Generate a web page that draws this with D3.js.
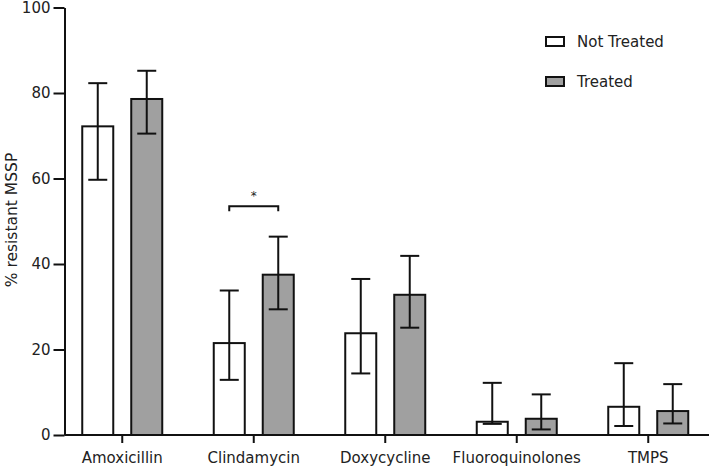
<!DOCTYPE html>
<html><head><meta charset="utf-8">
<script src="https://cdn.jsdelivr.net/npm/d3@7"></script>
<style>body{margin:0;background:#fff}svg{display:block}text{font-family:"DejaVu Sans",Verdana,sans-serif;fill:#222}</style>
</head><body><svg id="c" width="709" height="470"></svg>
<script>
const categories = ["Amoxicillin","Clindamycin","Doxycycline","Fluoroquinolones","TMPS"];
const groups = ["Not Treated","Treated"];
const notTreated = [72.2, 21.5, 23.8, 3.1, 6.6];
const notTreatedLow = [59.7, 12.9, 14.4, 2.6, 2.1];
const notTreatedHigh = [82.3, 33.8, 36.5, 12.2, 16.8];
const treated = [78.6, 37.5, 32.8, 3.8, 5.6];
const treatedLow = [70.5, 29.4, 25.1, 1.3, 2.7];
const treatedHigh = [85.2, 46.4, 41.9, 9.5, 11.9];
const yTicks = [0, 20, 40, 60, 80, 100];
const sigCategory = "Clindamycin";
const sigLevel = 53.5;
const sigLabel = "*";
const colors = {"Not Treated":"#ffffff","Treated":"#a0a0a0"};

const svg = d3.select("#c");
const y = d3.scaleLinear().domain([0,100]).range([435,7.5]);
const x = d3.scaleBand().domain(categories).range([56.5,714]).padding(0);
const xi = d3.scaleBand().domain(groups).range([-40,40]).paddingInner(0.367);

const rows = [];
categories.forEach((c,i)=>{
  rows.push({c,g:"Not Treated",v:notTreated[i],lo:notTreatedLow[i],hi:notTreatedHigh[i]});
  rows.push({c,g:"Treated",v:treated[i],lo:treatedLow[i],hi:treatedHigh[i]});
});
const cx = d => x(d.c)+x.bandwidth()/2;

// bars
svg.selectAll("rect.bar").data(rows).join("rect").attr("class","bar")
  .attr("x",d=>cx(d)+xi(d.g)).attr("width",xi.bandwidth())
  .attr("y",d=>y(d.v)).attr("height",d=>y(0)-y(d.v))
  .attr("fill",d=>colors[d.g]).attr("stroke","#111").attr("stroke-width",2);

// error bars
const eb = svg.append("g").attr("stroke","#111").attr("stroke-width",2);
rows.forEach(d=>{
  const mx = cx(d)+xi(d.g)+xi.bandwidth()/2;
  eb.append("line").attr("x1",mx).attr("x2",mx).attr("y1",y(d.hi)).attr("y2",y(d.lo));
  eb.append("line").attr("x1",mx-9.5).attr("x2",mx+9.5).attr("y1",y(d.hi)).attr("y2",y(d.hi));
  eb.append("line").attr("x1",mx-9.5).attr("x2",mx+9.5).attr("y1",y(d.lo)).attr("y2",y(d.lo));
});

// y axis
const yAxis = svg.append("g").attr("transform","translate(64.5,0)")
  .call(d3.axisLeft(y).tickValues(yTicks).tickSize(11).tickPadding(3).tickSizeOuter(0));
yAxis.select(".domain").attr("stroke","#111").attr("stroke-width",2);
yAxis.selectAll(".tick line").attr("stroke","#111").attr("stroke-width",2);
yAxis.selectAll(".tick text").style("font-size","15px").attr("fill","#222");

// x axis
const xAxis = svg.append("g").attr("transform","translate(0,435)")
  .call(d3.axisBottom(x).tickSize(8).tickPadding(9).tickSizeOuter(0));
xAxis.select(".domain").attr("stroke","#111").attr("stroke-width",2).attr("d","M64.5,0H709");
xAxis.selectAll(".tick line").attr("stroke","#111").attr("stroke-width",2);
xAxis.selectAll(".tick text").style("font-size","15px").attr("fill","#222");

// y title
svg.append("text").attr("transform","translate(12,220) rotate(-90)").attr("text-anchor","middle")
  .attr("dy","0.35em").style("font-size","15.5px").text("% resistant MSSP");

// significance bracket
const sx = x(sigCategory)+x.bandwidth()/2;
const l = sx+xi("Not Treated")+xi.bandwidth()/2, r = sx+xi("Treated")+xi.bandwidth()/2;
svg.append("path").attr("d",`M${l},${y(sigLevel)+5}V${y(sigLevel)}H${r}V${y(sigLevel)+5}`)
  .attr("fill","none").attr("stroke","#111").attr("stroke-width",2);
svg.append("text").attr("x",sx).attr("y",y(sigLevel)-6).attr("text-anchor","middle")
  .style("font-size","12px").text(sigLabel);

// legend
const lg = svg.append("g").attr("transform","translate(546,37)");
groups.forEach((g,i)=>{
  const row = lg.append("g").attr("transform",`translate(0,${i*40})`);
  row.append("rect").attr("width",18).attr("height",9).attr("fill",colors[g]).attr("stroke","#111").attr("stroke-width",2);
  row.append("text").attr("x",31).attr("y",4.5).attr("dy","0.35em").style("font-size","15px").text(g);
});
</script></body></html>
